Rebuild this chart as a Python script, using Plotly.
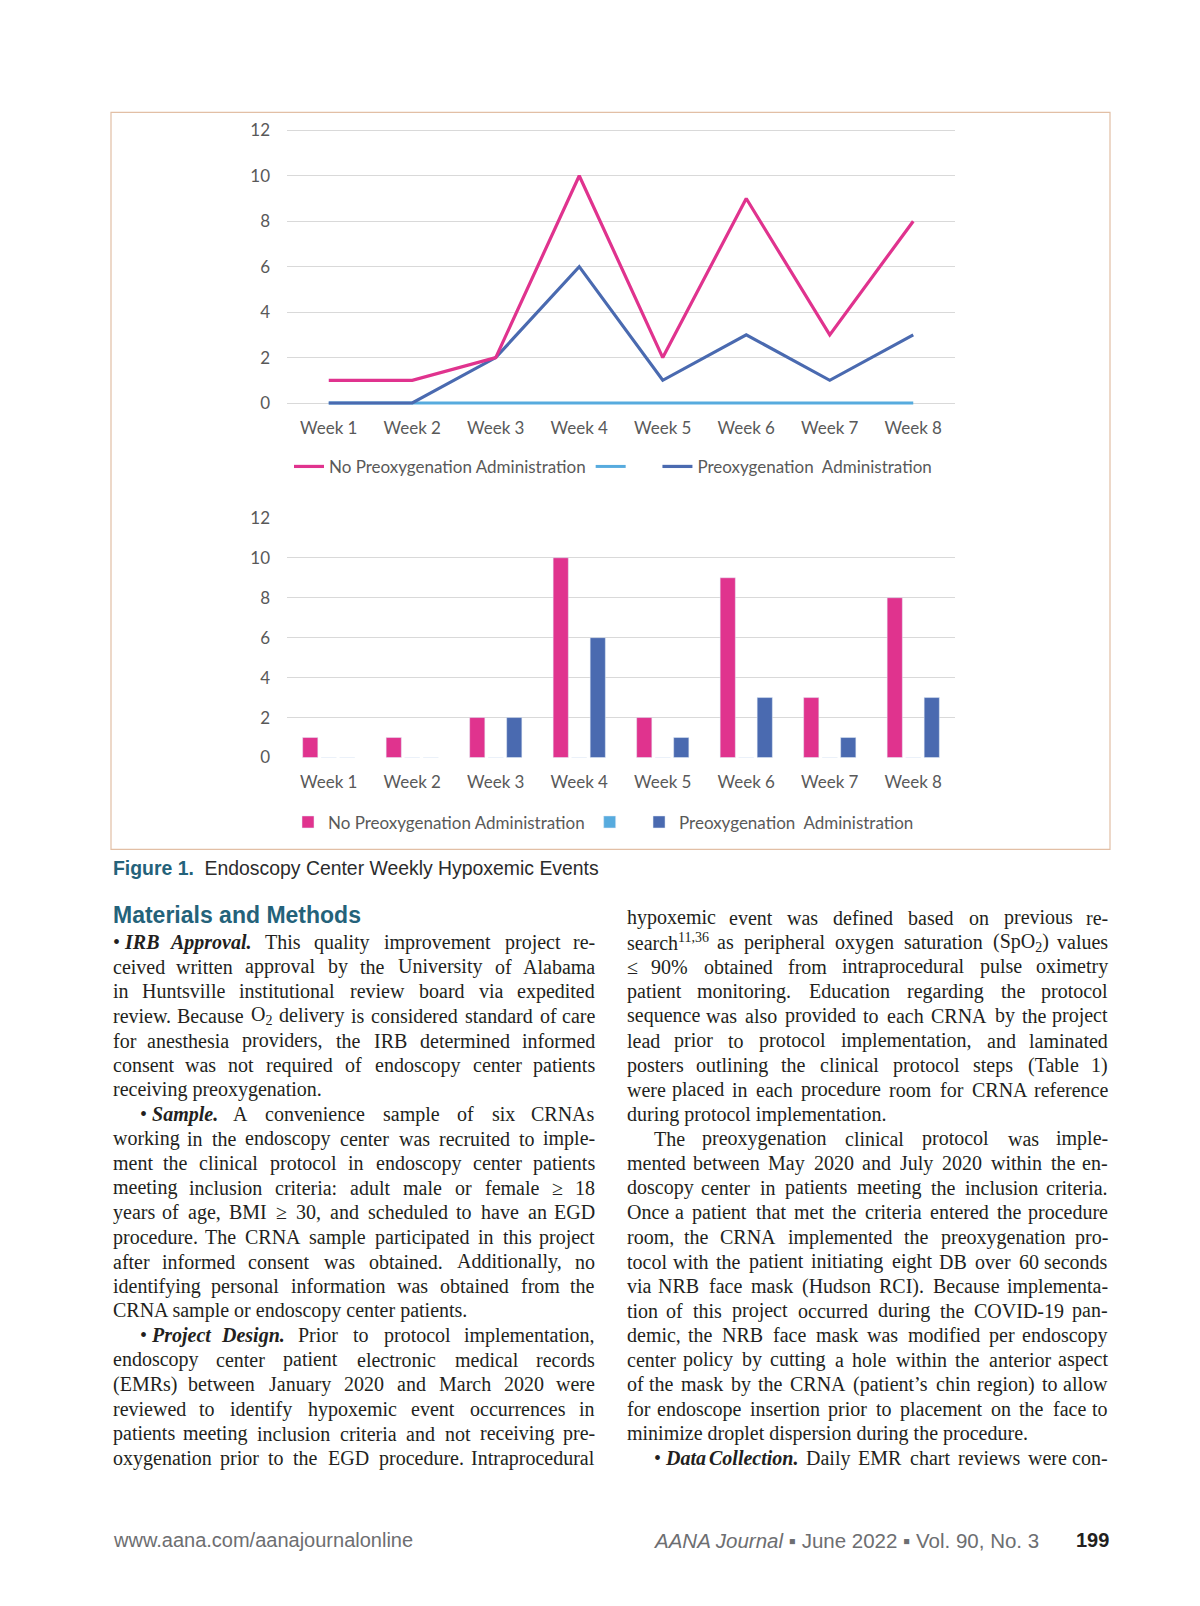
import re
import plotly.graph_objects as go

W, H = 1200, 1606

# ---------------- data ----------------
weeks = ["Week 1", "Week 2", "Week 3", "Week 4", "Week 5", "Week 6", "Week 7", "Week 8"]
no_preox = [1, 1, 2, 10, 2, 9, 3, 8]
unnamed_series = [0, 0, 0, 0, 0, 0, 0, 0]
preox = [0, 0, 2, 6, 1, 3, 1, 3]
y_ticks = [0, 2, 4, 6, 8, 10, 12]
name_no = "No Preoxygenation Administration"
name_blank_line = "&nbsp;&nbsp;&nbsp;&nbsp;&nbsp;"
name_blank_bar = " "
name_pre = "Preoxygenation&nbsp; Administration"

PINK = "#E0338E"
LBLUE = "#57ABDE"
DBLUE = "#4A6AB0"
GRAY = "#595959"
TEAL = "#24627A"
INK = "#231F20"


def X(px):
    return px / W


def Y(py):
    # vertical page position compensated for the capture offset/scale
    return 1 - ((py - 8.5) / 0.9895) / H


fig = go.Figure()

# top line chart (draw order: light blue, dark blue, pink)
fig.add_trace(go.Scatter(x=weeks, y=unnamed_series, name=name_blank_line, mode="lines",
                         line=dict(color=LBLUE, width=3), legendrank=2,
                         xaxis="x", yaxis="y", legend="legend"))
fig.add_trace(go.Scatter(x=weeks, y=preox, name=name_pre, mode="lines",
                         line=dict(color=DBLUE, width=3.2), legendrank=3,
                         xaxis="x", yaxis="y", legend="legend"))
fig.add_trace(go.Scatter(x=weeks, y=no_preox, name=name_no, mode="lines",
                         line=dict(color=PINK, width=3.2), legendrank=1,
                         xaxis="x", yaxis="y", legend="legend"))

# bottom bar chart
fig.add_trace(go.Bar(x=weeks, y=no_preox, name=name_no, marker_color=PINK,
                     xaxis="x2", yaxis="y2", legend="legend2"))
fig.add_trace(go.Bar(x=weeks, y=unnamed_series, name=name_blank_bar, marker_color=LBLUE,
                     xaxis="x2", yaxis="y2", legend="legend2"))
fig.add_trace(go.Bar(x=weeks, y=preox, name=name_pre, marker_color=DBLUE,
                     xaxis="x2", yaxis="y2", legend="legend2"))

tickfont = dict(family="Lato, Calibri, sans-serif", size=17, color=GRAY)
xcommon = dict(type="category", range=[-0.5, 7.5], showgrid=False, showline=False,
               zeroline=False, ticks="", tickfont=tickfont, domain=[X(287), X(955)])
ycommon = dict(tickvals=y_ticks, showgrid=True, gridcolor="#D9D9D9", gridwidth=1.3,
               zeroline=False, showline=False, ticks="", tickfont=tickfont,
               ticklabelstandoff=16)

legcommon = dict(orientation="h", xanchor="left", yanchor="middle",
                 font=dict(family="Lato, Calibri, sans-serif", size=17, color=GRAY),
                 bgcolor="rgba(0,0,0,0)", itemwidth=30, tracegroupgap=0, traceorder="normal")

fig.update_layout(
    width=W, height=H, margin=dict(l=0, r=0, t=0, b=0),
    paper_bgcolor="white", plot_bgcolor="white",
    barmode="group", bargap=0.335, bargroupgap=0.18,
    xaxis=dict(xcommon, anchor="y", ticklabelstandoff=8),
    yaxis=dict(ycommon, anchor="x", range=[-0.2, 12.2], domain=[Y(406.6), Y(124.4)]),
    xaxis2=dict(xcommon, anchor="y2", ticklabelstandoff=12),
    yaxis2=dict(ycommon, anchor="x2", range=[-0.05, 12.05], domain=[Y(758), Y(516)]),
    legend=dict(legcommon, x=X(289), y=Y(466)),
    legend2=dict(legcommon, x=X(288), y=Y(822)),
    showlegend=True,
)

# figure frame
fig.add_shape(type="rect", xref="paper", yref="paper",
              x0=X(111), x1=X(1110), y0=Y(849), y1=Y(111),
              line=dict(color="#E2BFA5", width=1.2), fillcolor="rgba(0,0,0,0)", layer="below")

annotations = []


def ann(x, y, text, xanchor="left", size=20, family="Liberation Serif, Times New Roman, serif",
        color=INK):
    annotations.append(dict(x=X(x), y=Y(y), xref="paper", yref="paper", text=text,
                            showarrow=False, xanchor=xanchor, yanchor="middle",
                            font=dict(family=family, size=size, color=color)))


# caption + heading
ann(111, 868, "<b><span style='color:%s'>Figure 1.</span></b>&nbsp;&nbsp;Endoscopy Center Weekly Hypoxemic Events" % TEAL,
    size=19.4, family="Liberation Sans, Arial, sans-serif", color="#2B2B2B")
ann(111, 915, "<b>Materials and Methods</b>", size=23,
    family="Liberation Sans, Arial, sans-serif", color=TEAL)

# ---------------- body text (justified) ----------------
left_col = [
    (False, True, "•&nbsp;<b><i>IRB</i></b> <b><i>Approval.</i></b> This quality improvement project re-"),
    (False, True, "ceived written approval by the University of Alabama"),
    (False, True, "in Huntsville institutional review board via expedited"),
    (False, True, "review. Because O<sub>2</sub> delivery is considered standard of care"),
    (False, True, "for anesthesia providers, the IRB determined informed"),
    (False, True, "consent was not required of endoscopy center patients"),
    (False, False, "receiving preoxygenation."),
    (True, True, "•&nbsp;<b><i>Sample.</i></b> A convenience sample of six CRNAs"),
    (False, True, "working in the endoscopy center was recruited to imple-"),
    (False, True, "ment the clinical protocol in endoscopy center patients"),
    (False, True, "meeting inclusion criteria: adult male or female ≥ 18"),
    (False, True, "years of age, BMI ≥ 30, and scheduled to have an EGD"),
    (False, True, "procedure. The CRNA sample participated in this project"),
    (False, True, "after informed consent was obtained. Additionally, no"),
    (False, True, "identifying personal information was obtained from the"),
    (False, False, "CRNA sample or endoscopy center patients."),
    (True, True, "•&nbsp;<b><i>Project</i></b> <b><i>Design.</i></b> Prior to protocol implementation,"),
    (False, True, "endoscopy center patient electronic medical records"),
    (False, True, "(EMRs) between January 2020 and March 2020 were"),
    (False, True, "reviewed to identify hypoxemic event occurrences in"),
    (False, True, "patients meeting inclusion criteria and not receiving pre-"),
    (False, True, "oxygenation prior to the EGD procedure. Intraprocedural"),
]

right_col = [
    (False, True, "hypoxemic event was defined based on previous re-"),
    (False, True, "search<sup>11,36</sup> as peripheral oxygen saturation (SpO<sub>2</sub>) values"),
    (False, True, "≤ 90% obtained from intraprocedural pulse oximetry"),
    (False, True, "patient monitoring. Education regarding the protocol"),
    (False, True, "sequence was also provided to each CRNA by the project"),
    (False, True, "lead prior to protocol implementation, and laminated"),
    (False, True, "posters outlining the clinical protocol steps (Table 1)"),
    (False, True, "were placed in each procedure room for CRNA reference"),
    (False, False, "during protocol implementation."),
    (True, True, "The preoxygenation clinical protocol was imple-"),
    (False, True, "mented between May 2020 and July 2020 within the en-"),
    (False, True, "doscopy center in patients meeting the inclusion criteria."),
    (False, True, "Once a patient that met the criteria entered the procedure"),
    (False, True, "room, the CRNA implemented the preoxygenation pro-"),
    (False, True, "tocol with the patient initiating eight DB over 60 seconds"),
    (False, True, "via NRB face mask (Hudson RCI). Because implementa-"),
    (False, True, "tion of this project occurred during the COVID-19 pan-"),
    (False, True, "demic, the NRB face mask was modified per endoscopy"),
    (False, True, "center policy by cutting a hole within the anterior aspect"),
    (False, True, "of the mask by the CRNA (patient’s chin region) to allow"),
    (False, True, "for endoscope insertion prior to placement on the face to"),
    (False, False, "minimize droplet dispersion during the procedure."),
    (True, True, "•&nbsp;<b><i>Data</i></b> <b><i>Collection.</i></b> Daily EMR chart reviews were con-"),
]

SERIF_W = {}


def setw(chars, w):
    for c in chars:
        SERIF_W[c] = w


setw(" ,.", 250); setw("ijlt:;", 278); setw("fr-()I’'", 333); setw("sJ", 389)
setw("acez", 444); setw("bdghknopquvxy0123456789", 500); setw("FPS", 556)
setw("≥≤", 549); setw("ELTZ", 611); setw("BCR", 667); setw("wADGHKNOQUVXY", 722)
setw("m", 778); setw("%", 833); setw("M", 889); setw("W", 944); setw("•", 350)

FS = 20
LINE = 24.6
INDENT = 27


def text_width(tok, size):
    total = 0.0
    scale = 1.0
    for part in re.split(r"(<[^>]+>)", tok):
        if part.startswith("<"):
            if part in ("<sup>", "<sub>"):
                scale = 0.7
            elif part in ("</sup>", "</sub>"):
                scale = 1.0
            continue
        part = part.replace("&nbsp;", " ")
        for c in part:
            total += SERIF_W.get(c, 500) * scale
    return total * size / 1000.0


def place_column(lines, x0, x1, y0):
    for i, (indent, justify, text) in enumerate(lines):
        y = y0 + i * LINE
        start = x0 + (INDENT if indent else 0)
        if not justify:
            ann(start, y, text, "left", FS)
            continue
        words = text.split(" ")
        widths = [text_width(w, FS) for w in words]
        gap = (x1 - start - sum(widths)) / (len(words) - 1)
        x = start
        n = len(words)
        for j, (w, wd) in enumerate(zip(words, widths)):
            if j == 0:
                ann(start, y, w, "left", FS)
            elif j == n - 1:
                ann(x1, y, w, "right", FS)
            else:
                ann(x + wd / 2, y, w, "center", FS)
            x += wd + gap


place_column(left_col, 111, 596.5, 942)
place_column(right_col, 625, 1110, 917.4)

# footer
ann(111, 1541, "www.aana.com/aanajournalonline", "left", 20,
    "Liberation Sans, Arial, sans-serif", "#6D6E71")
ann(1041, 1541, "<i>AANA Journal</i> ▪ June 2022 ▪ Vol. 90, No. 3", "right", 20.5,
    "Liberation Sans, Arial, sans-serif", "#6D6E71")
ann(1111, 1541, "<b>199</b>", "right", 20, "Liberation Sans, Arial, sans-serif", INK)

fig.update_layout(annotations=annotations)
fig.write_html("out.html", config={"displayModeBar": False},
               post_script="document.body.style.margin='0';document.body.style.overflow='hidden';")
